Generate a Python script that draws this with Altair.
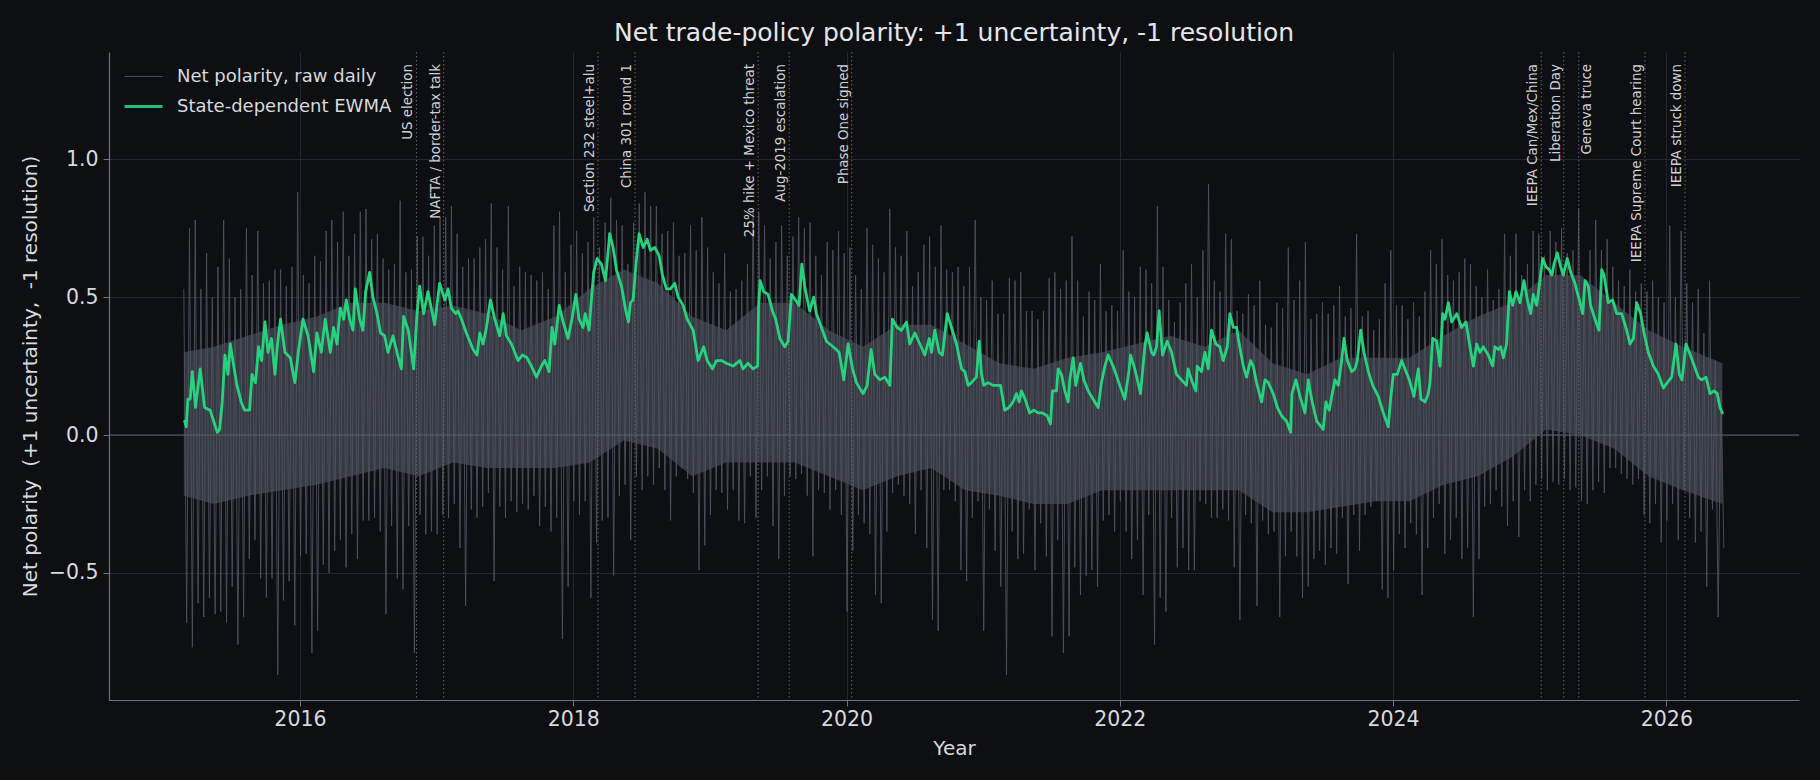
import altair as alt
import pandas as pd

# ---------------------------------------------------------------------------
# Raw daily net polarity, summarised as half-month extremes (high spike, low
# spike) starting 2015-02-24; one entry per half-month.
# ---------------------------------------------------------------------------
RAW_START = 2015.15
HALF_MONTH = 1 / 24

raw_hi_2015_16 = [0.53, 0.75, 0.78, 0.53, 0.66, 0.50, 0.61, 0.78, 0.64, 0.50, 0.53, 0.75,
                  0.58, 0.74, 0.55, 0.56, 0.60, 0.60, 0.54, 0.61, 0.88, 0.58, 0.55, 0.65,
                  0.63, 0.74, 0.78, 0.70, 0.81, 0.65, 0.73, 0.81, 0.82, 0.71, 0.73, 0.64,
                  0.60, 0.62, 0.85, 0.59, 0.60, 0.72, 0.72, 0.65, 0.76, 0.79, 0.79]
raw_lo_2015_16 = [-0.68, -0.77, -0.61, -0.66, -0.59, -0.65, -0.64, -0.68, -0.55, -0.76, -0.66, -0.45,
                  -0.38, -0.52, -0.59, -0.52, -0.87, -0.60, -0.53, -0.69, -0.44, -0.43, -0.79, -0.71,
                  -0.47, -0.50, -0.42, -0.38, -0.48, -0.36, -0.45, -0.31, -0.31, -0.30, -0.35, -0.65,
                  -0.33, -0.52, -0.56, -0.33, -0.79, -0.29, -0.36, -0.35, -0.36, -0.29, -0.30]

raw_hi_2017_18 = [0.83, 0.73, 0.61, 0.64, 0.64, 0.68, 0.71, 0.84, 0.68, 0.60, 0.83, 0.54,
                  0.61, 0.59, 0.58, 0.56, 0.59, 0.53, 0.76, 0.81, 0.59, 0.69, 0.74, 0.66,
                  0.70, 0.79, 0.68, 0.77, 0.86, 0.78, 0.76, 0.62, 0.77, 0.84, 0.88, 0.83,
                  0.83, 0.73, 0.74, 0.77, 0.65, 0.66, 0.76, 0.67, 0.79, 0.68]
raw_lo_2017_18 = [-0.25, -0.41, -0.62, -0.27, -0.30, -0.26, -0.21, -0.53, -0.26, -0.30, -0.24, -0.28,
                  -0.25, -0.27, -0.22, -0.33, -0.26, -0.35, -0.30, -0.74, -0.55, -0.24, -0.29, -0.24,
                  -0.59, -0.39, -0.31, -0.30, -0.51, -0.22, -0.18, -0.38, -0.15, -0.20, -0.15, -0.18,
                  -0.12, -0.20, -0.31, -0.15, -0.12, -0.16, -0.21, -0.49, -0.40, -0.29]

raw_hi_2019_20 = [0.59, 0.55, 0.66, 0.52, 0.53, 0.56, 0.62, 0.81, 0.81, 0.76, 0.64, 0.70,
                  0.76, 0.65, 0.72, 0.79, 0.75, 0.77, 0.65, 0.58, 0.70, 0.67, 0.74, 0.66,
                  0.68, 0.58, 0.53, 0.75, 0.69, 0.64, 0.59, 0.82, 0.68, 0.65, 0.74, 0.54,
                  0.59, 0.69, 0.72, 0.61, 0.76, 0.60, 0.59, 0.61, 0.54]
raw_lo_2019_20 = [-0.20, -0.21, -0.27, -0.20, -0.31, -0.32, -0.15, -0.30, -0.20, -0.15, -0.33, -0.45,
                  -0.22, -0.15, -0.16, -0.14, -0.22, -0.44, -0.20, -0.21, -0.27, -0.20, -0.29, -0.64,
                  -0.42, -0.29, -0.32, -0.36, -0.58, -0.61, -0.35, -0.21, -0.18, -0.22, -0.25, -0.36,
                  -0.20, -0.41, -0.67, -0.71, -0.20, -0.20, -0.24, -0.49, -0.53]

raw_hi_2021_22 = [0.61, 0.78, 0.50, 0.49, 0.56, 0.44, 0.44, 0.57, 0.56, 0.59, 0.45, 0.45,
                  0.42, 0.45, 0.57, 0.59, 0.53, 0.56, 0.72, 0.56, 0.43, 0.52, 0.49, 0.62,
                  0.45, 0.47, 0.45, 0.67, 0.52, 0.50, 0.61, 0.60, 0.55, 0.83, 0.61, 0.49,
                  0.41, 0.48, 0.55, 0.62, 0.50, 0.67, 0.91, 0.56, 0.52]
raw_lo_2021_22 = [-0.30, -0.24, -0.71, -0.27, -0.42, -0.55, -0.87, -0.35, -0.45, -0.43, -0.27, -0.49,
                  -0.32, -0.44, -0.73, -0.38, -0.79, -0.73, -0.48, -0.58, -0.51, -0.49, -0.55, -0.31,
                  -0.29, -0.35, -0.24, -0.35, -0.45, -0.38, -0.58, -0.29, -0.76, -0.59, -0.64, -0.30,
                  -0.48, -0.41, -0.49, -0.49, -0.24, -0.25, -0.30, -0.30, -0.27]

raw_hi_2023_24 = [0.73, 0.71, 0.45, 0.44, 0.51, 0.47, 0.56, 0.40, 0.39, 0.48, 0.46, 0.68,
                  0.49, 0.56, 0.70, 0.42, 0.44, 0.48, 0.44, 0.47, 0.54, 0.43, 0.46, 0.73,
                  0.43, 0.45, 0.38, 0.42, 0.55, 0.67, 0.47, 0.47, 0.42, 0.48, 0.43, 0.52,
                  0.67, 0.62, 0.71, 0.58, 0.56, 0.59, 0.64, 0.62, 0.54, 0.50]
raw_lo_2023_24 = [-0.31, -0.48, -0.67, -0.29, -0.32, -0.62, -0.31, -0.36, -0.35, -0.66, -0.44, -0.35,
                  -0.44, -0.59, -0.55, -0.45, -0.42, -0.47, -0.41, -0.43, -0.30, -0.54, -0.29, -0.42,
                  -0.29, -0.26, -0.24, -0.56, -0.59, -0.49, -0.36, -0.41, -0.32, -0.36, -0.58, -0.41,
                  -0.30, -0.25, -0.43, -0.38, -0.30, -0.45, -0.41, -0.66, -0.45, -0.26]

raw_hi_2025_26 = [0.60, 0.49, 0.53, 0.73, 0.65, 0.73, 0.58, 0.62, 0.74, 0.73, 0.65, 0.74,
                  0.70, 0.75, 0.66, 0.67, 0.82, 0.54, 0.67, 0.78, 0.67, 0.71, 0.61, 0.56,
                  0.54, 0.60, 0.52, 0.55, 0.52, 0.56, 0.50, 0.48, 0.76, 0.50, 0.74, 0.55,
                  0.48, 0.53, 0.37, 0.56, 0.27, 0.16]
raw_lo_2025_26 = [-0.25, -0.20, -0.26, -0.33, -0.24, -0.37, -0.20, -0.24, -0.18, -0.16, -0.20, -0.17,
                  -0.18, -0.16, -0.20, -0.19, -0.24, -0.25, -0.20, -0.17, -0.21, -0.12, -0.12, -0.14,
                  -0.16, -0.18, -0.16, -0.29, -0.32, -0.25, -0.39, -0.31, -0.25, -0.38, -0.20, -0.30,
                  -0.39, -0.35, -0.55, -0.27, -0.66, -0.41]

# Dense core of the daily series (quarterly upper / lower edge)
core_t = [2015.15, 2015.37, 2015.62, 2015.87, 2016.12, 2016.37, 2016.62, 2016.87,
          2017.12, 2017.37, 2017.62, 2017.87, 2018.12, 2018.37, 2018.62, 2018.87,
          2019.12, 2019.37, 2019.62, 2019.87, 2020.12, 2020.37, 2020.62, 2020.87,
          2021.12, 2021.37, 2021.62, 2021.87, 2022.12, 2022.37, 2022.62, 2022.87,
          2023.12, 2023.37, 2023.62, 2023.87, 2024.12, 2024.37, 2024.62, 2024.87,
          2025.12, 2025.37, 2025.62, 2025.87, 2026.12, 2026.41]
core_hi = [0.30, 0.32, 0.36, 0.40, 0.43, 0.48, 0.48, 0.45,
           0.47, 0.44, 0.38, 0.43, 0.53, 0.60, 0.55, 0.43,
           0.38, 0.48, 0.48, 0.38, 0.32, 0.40, 0.40, 0.33,
           0.26, 0.24, 0.28, 0.30, 0.33, 0.36, 0.32, 0.38,
           0.26, 0.22, 0.28, 0.28, 0.28, 0.36, 0.43, 0.48,
           0.58, 0.58, 0.48, 0.38, 0.32, 0.26]
core_lo = [-0.22, -0.25, -0.22, -0.20, -0.18, -0.15, -0.12, -0.15,
           -0.10, -0.12, -0.12, -0.12, -0.10, -0.02, -0.05, -0.15,
           -0.10, -0.10, -0.10, -0.15, -0.20, -0.15, -0.12, -0.20,
           -0.22, -0.25, -0.25, -0.20, -0.20, -0.20, -0.20, -0.20,
           -0.28, -0.28, -0.26, -0.24, -0.24, -0.18, -0.15, -0.08,
           0.02, 0.00, -0.05, -0.15, -0.20, -0.25]

# State-dependent EWMA, (decimal year, value) at its turning points
ewma_2015_16 = [(2015.156, 0.05), (2015.168, 0.03), (2015.180, 0.13), (2015.197, 0.13), (2015.212, 0.23),
                (2015.236, 0.10), (2015.270, 0.24), (2015.302, 0.10), (2015.343, 0.09), (2015.375, 0.04),
                (2015.395, 0.01), (2015.412, 0.02), (2015.431, 0.12), (2015.451, 0.29), (2015.473, 0.22),
                (2015.490, 0.33), (2015.509, 0.27), (2015.539, 0.18), (2015.570, 0.12), (2015.595, 0.09),
                (2015.631, 0.09), (2015.649, 0.22), (2015.675, 0.19), (2015.697, 0.32), (2015.719, 0.27),
                (2015.744, 0.41), (2015.766, 0.30), (2015.792, 0.35), (2015.817, 0.22), (2015.836, 0.33),
                (2015.858, 0.42), (2015.890, 0.30), (2015.929, 0.28), (2015.963, 0.19), (2015.988, 0.30),
                (2016.022, 0.42), (2016.059, 0.36), (2016.100, 0.23), (2016.124, 0.37), (2016.156, 0.30),
                (2016.185, 0.42), (2016.222, 0.30), (2016.246, 0.39), (2016.271, 0.33), (2016.295, 0.46),
                (2016.320, 0.42), (2016.339, 0.49), (2016.364, 0.42), (2016.388, 0.38), (2016.405, 0.53),
                (2016.437, 0.42), (2016.461, 0.38), (2016.481, 0.52), (2016.510, 0.59), (2016.534, 0.50),
                (2016.564, 0.44), (2016.590, 0.37), (2016.620, 0.36), (2016.644, 0.30), (2016.681, 0.36),
                (2016.710, 0.30), (2016.742, 0.24), (2016.759, 0.43), (2016.793, 0.38), (2016.832, 0.24),
                (2016.857, 0.44), (2016.876, 0.54), (2016.905, 0.44), (2016.937, 0.52), (2016.986, 0.40)]
ewma_2017_18 = [(2017.022, 0.55), (2017.060, 0.49), (2017.084, 0.53), (2017.108, 0.46), (2017.140, 0.44),
                (2017.157, 0.45), (2017.182, 0.42), (2017.218, 0.37), (2017.267, 0.31), (2017.296, 0.29),
                (2017.316, 0.37), (2017.340, 0.33), (2017.365, 0.39), (2017.394, 0.49), (2017.426, 0.42),
                (2017.462, 0.36), (2017.487, 0.44), (2017.511, 0.36), (2017.548, 0.33), (2017.596, 0.27),
                (2017.628, 0.29), (2017.662, 0.28), (2017.694, 0.25), (2017.731, 0.21), (2017.767, 0.25),
                (2017.792, 0.27), (2017.823, 0.23), (2017.845, 0.39), (2017.865, 0.33), (2017.897, 0.47),
                (2017.926, 0.41), (2017.962, 0.35), (2017.994, 0.43), (2018.019, 0.51), (2018.043, 0.42),
                (2018.072, 0.39), (2018.087, 0.44), (2018.116, 0.38), (2018.136, 0.51), (2018.150, 0.59),
                (2018.175, 0.64), (2018.206, 0.62), (2018.236, 0.56), (2018.267, 0.73), (2018.292, 0.68),
                (2018.316, 0.60), (2018.353, 0.54), (2018.385, 0.45), (2018.404, 0.41), (2018.419, 0.48),
                (2018.438, 0.49), (2018.463, 0.64), (2018.482, 0.73), (2018.512, 0.68), (2018.541, 0.71),
                (2018.565, 0.67), (2018.597, 0.68), (2018.629, 0.65), (2018.653, 0.58), (2018.682, 0.53),
                (2018.712, 0.53), (2018.743, 0.55), (2018.768, 0.50), (2018.804, 0.47), (2018.834, 0.42),
                (2018.878, 0.38), (2018.914, 0.27)]
ewma_2019_20 = [(2018.955, 0.32), (2018.980, 0.27), (2019.019, 0.24), (2019.048, 0.27), (2019.085, 0.27),
                (2019.121, 0.26), (2019.170, 0.25), (2019.219, 0.27), (2019.243, 0.24), (2019.280, 0.26),
                (2019.316, 0.24), (2019.350, 0.25), (2019.356, 0.46), (2019.368, 0.56), (2019.394, 0.52),
                (2019.426, 0.51), (2019.458, 0.45), (2019.482, 0.42), (2019.512, 0.35), (2019.548, 0.32),
                (2019.573, 0.34), (2019.597, 0.51), (2019.626, 0.49), (2019.653, 0.47), (2019.673, 0.62),
                (2019.697, 0.53), (2019.731, 0.45), (2019.760, 0.50), (2019.780, 0.44), (2019.817, 0.39),
                (2019.853, 0.34), (2019.902, 0.32), (2019.946, 0.30), (2019.980, 0.20), (2020.012, 0.33),
                (2020.044, 0.24), (2020.073, 0.19), (2020.097, 0.17), (2020.122, 0.15), (2020.151, 0.18),
                (2020.180, 0.31), (2020.207, 0.22), (2020.244, 0.20), (2020.280, 0.21), (2020.317, 0.18),
                (2020.336, 0.42), (2020.371, 0.39), (2020.402, 0.38), (2020.439, 0.41), (2020.463, 0.33),
                (2020.500, 0.37), (2020.537, 0.33), (2020.573, 0.29), (2020.605, 0.35), (2020.622, 0.30),
                (2020.646, 0.38), (2020.678, 0.30), (2020.702, 0.29), (2020.737, 0.44), (2020.768, 0.39),
                (2020.805, 0.33), (2020.842, 0.24)]
ewma_2021_22 = [(2020.866, 0.23), (2020.890, 0.18), (2020.914, 0.19), (2020.951, 0.21), (2020.971, 0.34),
                (2020.988, 0.22), (2021.005, 0.18), (2021.036, 0.19), (2021.073, 0.18), (2021.102, 0.18),
                (2021.127, 0.18), (2021.158, 0.09), (2021.190, 0.10), (2021.219, 0.12), (2021.244, 0.15),
                (2021.263, 0.12), (2021.280, 0.16), (2021.307, 0.13), (2021.341, 0.08), (2021.371, 0.09),
                (2021.402, 0.08), (2021.434, 0.08), (2021.468, 0.07), (2021.493, 0.04), (2021.507, 0.16),
                (2021.537, 0.16), (2021.549, 0.24), (2021.573, 0.22), (2021.598, 0.16), (2021.622, 0.12),
                (2021.634, 0.20), (2021.659, 0.28), (2021.678, 0.18), (2021.712, 0.26), (2021.737, 0.20),
                (2021.769, 0.16), (2021.805, 0.13), (2021.842, 0.10), (2021.866, 0.19), (2021.891, 0.25),
                (2021.915, 0.29), (2021.951, 0.25), (2022.000, 0.18), (2022.037, 0.13), (2022.069, 0.24),
                (2022.078, 0.29), (2022.110, 0.24), (2022.152, 0.15), (2022.183, 0.32), (2022.200, 0.37),
                (2022.232, 0.30), (2022.249, 0.29), (2022.269, 0.32), (2022.288, 0.45), (2022.313, 0.29),
                (2022.347, 0.34), (2022.379, 0.30), (2022.415, 0.22), (2022.452, 0.20), (2022.488, 0.18),
                (2022.500, 0.24), (2022.525, 0.20), (2022.557, 0.16), (2022.566, 0.25), (2022.598, 0.23),
                (2022.623, 0.30), (2022.647, 0.24), (2022.671, 0.38), (2022.703, 0.33), (2022.732, 0.32)]
ewma_2023_24 = [(2022.757, 0.27), (2022.787, 0.32), (2022.806, 0.44), (2022.831, 0.39), (2022.855, 0.39),
                (2022.867, 0.35), (2022.904, 0.25), (2022.928, 0.21), (2022.957, 0.27), (2022.977, 0.25),
                (2023.001, 0.19), (2023.038, 0.12), (2023.062, 0.20), (2023.087, 0.19), (2023.123, 0.15),
                (2023.153, 0.10), (2023.184, 0.07), (2023.221, 0.05), (2023.250, 0.01), (2023.260, 0.15),
                (2023.289, 0.20), (2023.319, 0.14), (2023.355, 0.08), (2023.380, 0.20), (2023.404, 0.13),
                (2023.441, 0.05), (2023.489, 0.02), (2023.509, 0.12), (2023.533, 0.09), (2023.551, 0.14),
                (2023.575, 0.20), (2023.599, 0.18), (2023.624, 0.27), (2023.641, 0.35), (2023.665, 0.27),
                (2023.697, 0.23), (2023.721, 0.24), (2023.738, 0.27), (2023.763, 0.38), (2023.787, 0.30),
                (2023.819, 0.23), (2023.851, 0.18), (2023.892, 0.14), (2023.929, 0.08), (2023.965, 0.03),
                (2023.982, 0.13), (2024.002, 0.22), (2024.031, 0.22), (2024.063, 0.27), (2024.087, 0.24),
                (2024.119, 0.20), (2024.153, 0.14), (2024.185, 0.24), (2024.204, 0.13), (2024.234, 0.12),
                (2024.258, 0.15), (2024.270, 0.19), (2024.290, 0.35), (2024.319, 0.34), (2024.344, 0.25),
                (2024.363, 0.44), (2024.380, 0.42), (2024.405, 0.48), (2024.429, 0.41), (2024.466, 0.44),
                (2024.502, 0.39), (2024.534, 0.41), (2024.563, 0.32), (2024.588, 0.25), (2024.612, 0.33),
                (2024.636, 0.30)]
ewma_2025_26 = [(2024.660, 0.32), (2024.697, 0.29), (2024.729, 0.25), (2024.746, 0.32), (2024.770, 0.31),
                (2024.788, 0.32), (2024.807, 0.28), (2024.831, 0.33), (2024.851, 0.52), (2024.875, 0.47),
                (2024.900, 0.52), (2024.929, 0.48), (2024.958, 0.56), (2024.983, 0.49), (2025.007, 0.44),
                (2025.026, 0.51), (2025.051, 0.47), (2025.070, 0.54), (2025.095, 0.64), (2025.119, 0.61),
                (2025.143, 0.60), (2025.163, 0.58), (2025.178, 0.62), (2025.202, 0.66), (2025.227, 0.61),
                (2025.246, 0.58), (2025.275, 0.64), (2025.300, 0.59), (2025.331, 0.55), (2025.363, 0.49),
                (2025.388, 0.44), (2025.405, 0.56), (2025.429, 0.54), (2025.446, 0.47), (2025.478, 0.42),
                (2025.507, 0.38), (2025.527, 0.60), (2025.544, 0.58), (2025.575, 0.48), (2025.607, 0.49),
                (2025.637, 0.44), (2025.673, 0.44), (2025.710, 0.38), (2025.734, 0.33), (2025.759, 0.35),
                (2025.783, 0.48), (2025.812, 0.44), (2025.837, 0.37), (2025.868, 0.30), (2025.905, 0.25),
                (2025.942, 0.22), (2025.978, 0.17), (2026.007, 0.19), (2026.039, 0.21), (2026.071, 0.33),
                (2026.095, 0.22), (2026.115, 0.20), (2026.144, 0.33), (2026.168, 0.30), (2026.198, 0.26),
                (2026.234, 0.21), (2026.259, 0.20), (2026.290, 0.21), (2026.320, 0.15), (2026.349, 0.16),
                (2026.373, 0.15), (2026.393, 0.10), (2026.410, 0.08)]

# Policy events
event_dates = ["2016-11-08", "2017-01-20", "2018-03-08", "2018-06-15", "2019-05-10", "2019-08-01",
               "2020-01-15", "2025-02-01", "2025-04-02", "2025-05-12", "2025-11-05", "2026-02-20"]
event_labels = ["US election", "NAFTA / border-tax talk", "Section 232 steel+alu", "China 301 round 1",
                "25% hike + Mexico threat", "Aug-2019 escalation", "Phase One signed",
                "IEEPA Can/Mex/China", "Liberation Day", "Geneva truce",
                "IEEPA Supreme Court hearing", "IEEPA struck down"]
# labels that sit on the right-hand side of their marker line
labels_right_of_line = ["Geneva truce"]

RAW_NAME = "Net polarity, raw daily"
EWMA_NAME = "State-dependent EWMA"

BG = "#0e0f12"
TEXT = "#d8d9dc"
GRID = "#25272c"
SPINE = "#6d7280"
RAW_COLOR = "#4e525d"
CORE_COLOR = "#3e414b"
GREEN = "#27d27e"
FONT = "DejaVu Sans"


def decimal_year(s):
    d = pd.Timestamp(s)
    start = pd.Timestamp(year=d.year, month=1, day=1)
    end = pd.Timestamp(year=d.year + 1, month=1, day=1)
    return d.year + (d - start) / (end - start)


# ---- tables -------------------------------------------------------------
raw_hi = raw_hi_2015_16 + raw_hi_2017_18 + raw_hi_2019_20 + raw_hi_2021_22 + raw_hi_2023_24 + raw_hi_2025_26
raw_lo = raw_lo_2015_16 + raw_lo_2017_18 + raw_lo_2019_20 + raw_lo_2021_22 + raw_lo_2023_24 + raw_lo_2025_26
raw_rows = []
for i, (hi, lo) in enumerate(zip(raw_hi, raw_lo)):
    t = RAW_START + i * HALF_MONTH
    raw_rows.append({"t": t, "v": hi, "series": RAW_NAME})
    raw_rows.append({"t": t + HALF_MONTH / 2, "v": lo, "series": RAW_NAME})
raw_df = pd.DataFrame(raw_rows)

core_df = pd.DataFrame({"t": core_t, "hi": core_hi, "lo": core_lo})

ewma_pts = ewma_2015_16 + ewma_2017_18 + ewma_2019_20 + ewma_2021_22 + ewma_2023_24 + ewma_2025_26
ewma_df = pd.DataFrame(ewma_pts, columns=["t", "v"])
ewma_df["series"] = EWMA_NAME

events_df = pd.DataFrame({"t": [decimal_year(d) for d in event_dates], "label": event_labels})
events_df["right"] = events_df["label"].isin(labels_right_of_line)

# ---- scales / axes ------------------------------------------------------
x_scale = alt.Scale(domain=[2014.6025, 2026.971], nice=False, zero=False)
y_scale = alt.Scale(domain=[-0.961, 1.389], nice=False, zero=False)

x_axis = alt.Axis(values=[2016, 2018, 2020, 2022, 2024, 2026], format="d", title="Year",
                  grid=True, gridColor=GRID, gridWidth=1,
                  domainColor=SPINE, tickColor=SPINE, tickSize=6, labelPadding=3,
                  labelColor=TEXT, labelFontSize=20.5, labelFont=FONT,
                  titleColor=TEXT, titleFontSize=20, titleFont=FONT, titleFontWeight="normal",
                  titleY=48, titleBaseline="middle")
y_axis = alt.Axis(values=[-0.5, 0.0, 0.5, 1.0], format=".1f",
                  title="Net polarity\u00a0 (+1 uncertainty,\u00a0 -1 resolution)",
                  grid=True, gridColor=GRID, gridWidth=1,
                  domainColor=SPINE, tickColor=SPINE, tickSize=6, labelPadding=5,
                  labelColor=TEXT, labelFontSize=20.5, labelFont=FONT,
                  titleColor=TEXT, titleFontSize=20, titleFont=FONT, titleFontWeight="normal",
                  titleX=-79, titleY=324, titleAngle=270, titleAlign="center", titleBaseline="middle")

series_color = alt.Scale(domain=[RAW_NAME, EWMA_NAME], range=[RAW_COLOR, GREEN])
series_width = alt.Scale(domain=[RAW_NAME, EWMA_NAME], range=[1.0, 2.8])
legend = alt.Legend(title=None, orient="none", legendX=14, legendY=5, symbolType="stroke",
                    symbolSize=1444, labelFontSize=18, labelFont=FONT, labelColor=TEXT,
                    labelOffset=13, labelLimit=500, rowPadding=-9, padding=0)

core = alt.Chart(core_df).mark_area(color=CORE_COLOR, opacity=0.85).encode(
    x=alt.X("t:Q", scale=x_scale, axis=x_axis),
    y=alt.Y("hi:Q", scale=y_scale, axis=y_axis),
    y2="lo:Q",
)

raw = alt.Chart(raw_df).mark_line(strokeJoin="miter", opacity=0.9).encode(
    x=alt.X("t:Q", scale=x_scale),
    y=alt.Y("v:Q", scale=y_scale),
    color=alt.Color("series:N", scale=series_color, legend=legend),
    strokeWidth=alt.StrokeWidth("series:N", scale=series_width, legend=legend),
)

zero = alt.Chart(pd.DataFrame({"y": [0.0]})).mark_rule(color="#5c6069", strokeWidth=1.2).encode(
    y=alt.Y("y:Q", scale=y_scale)
)

event_lines = alt.Chart(events_df).mark_rule(color="#61656f", strokeWidth=1, strokeDash=[1.5, 2.5]).encode(
    x=alt.X("t:Q", scale=x_scale)
)

ewma = alt.Chart(ewma_df).mark_line(strokeJoin="round", strokeCap="round").encode(
    x=alt.X("t:Q", scale=x_scale),
    y=alt.Y("v:Q", scale=y_scale),
    color=alt.Color("series:N", scale=series_color, legend=legend),
    strokeWidth=alt.StrokeWidth("series:N", scale=series_width, legend=legend),
)

label_style = dict(angle=270, align="right", fontSize=13.4, font=FONT, color="#cfd0d4")

event_text_left = alt.Chart(events_df).transform_filter(
    "!datum.right"
).mark_text(baseline="bottom", dy=-1, **label_style).encode(
    x=alt.X("t:Q", scale=x_scale),
    y=alt.value(12),
    text="label:N",
)

event_text_right = alt.Chart(events_df).transform_filter(
    "datum.right"
).mark_text(baseline="top", dy=1, **label_style).encode(
    x=alt.X("t:Q", scale=x_scale),
    y=alt.value(12),
    text="label:N",
)

chart = alt.layer(core, raw, zero, event_lines, ewma, event_text_left, event_text_right).properties(
    width=1690,
    height=648,
    autosize=alt.AutoSizeParams(type="none"),
    padding={"left": 109, "top": 52, "right": 21, "bottom": 80},
    background=BG,
    title=alt.TitleParams("Net trade-policy polarity: +1 uncertainty, -1 resolution",
                          fontSize=25, font=FONT, fontWeight="normal", color="#e6e6e8",
                          anchor="middle", frame="group", baseline="alphabetic", offset=10, dy=24),
).configure_view(strokeWidth=0).configure_axis(domainWidth=1.2)

chart.save("out.html", embed_options={"renderer": "svg", "actions": False})
